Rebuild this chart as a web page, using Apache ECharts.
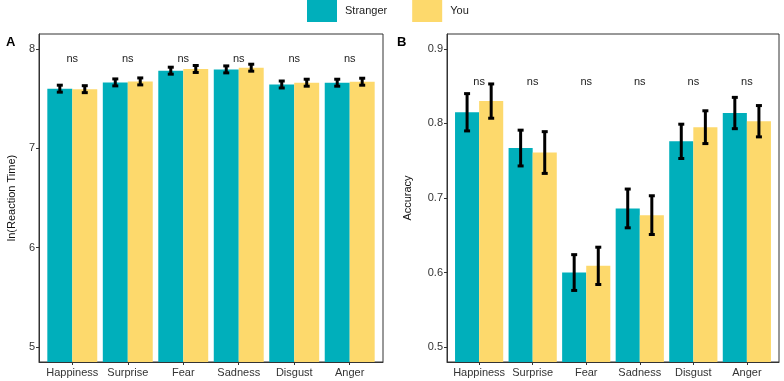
<!DOCTYPE html>
<html>
<head>
<meta charset="utf-8">
<script src="https://cdn.jsdelivr.net/npm/echarts@6/dist/echarts.min.js"></script>
<style>
  html, body { margin: 0; padding: 0; background: #fff; }
  #chart { width: 784px; height: 381px; }
</style>
</head>
<body>
<div id="chart"></div>
<script>
// emotions on the x axis
const categories = ['Happiness', 'Surprise', 'Fear', 'Sadness', 'Disgust', 'Anger'];

// panel A: ln(reaction time), mean and error half-length
const rtStranger = [7.600, 7.663, 7.781, 7.794, 7.642, 7.660];
const rtYou = [7.595, 7.673, 7.798, 7.811, 7.660, 7.670];
const rtErrStranger = [0.035, 0.035, 0.035, 0.035, 0.035, 0.035];
const rtErrYou = [0.035, 0.035, 0.035, 0.035, 0.035, 0.035];
const rtTicks = [5, 6, 7, 8];

// panel B: accuracy, mean and error half-length
const accStranger = [0.815, 0.767, 0.600, 0.686, 0.776, 0.814];
const accYou = [0.830, 0.761, 0.609, 0.677, 0.795, 0.803];
const accErrStranger = [0.025, 0.024, 0.024, 0.026, 0.023, 0.021];
const accErrYou = [0.023, 0.028, 0.025, 0.026, 0.022, 0.021];
const accTicks = [0.5, 0.6, 0.7, 0.8, 0.9];

const sigLabels = ['ns', 'ns', 'ns', 'ns', 'ns', 'ns'];

const TEAL = '#00AFBB';
const YELLOW = '#FDD96C';
const FONT = 'Liberation Sans, Arial, sans-serif';

// axis ranges (ggplot style 5% expansion)
const rtMin = 4.85, rtMax = 8.15;
const accMin = 0.48, accMax = 0.92;

function toData(vals, errs) {
  return categories.map((c, i) => [i + 1, vals[i], errs[i]]);
}

// bar drawn from the axis bottom up to the value, dodged left/right
function barRenderer(offset, base) {
  return function (params, api) {
    const x = api.value(0);
    const y = api.value(1);
    const p0 = api.coord([x + offset - 0.225, base]);
    const p1 = api.coord([x + offset + 0.225, y]);
    return {
      type: 'rect',
      shape: { x: p0[0], y: p1[1], width: p1[0] - p0[0], height: p0[1] - p1[1] },
      style: { fill: api.visual('color') }
    };
  };
}

function errRenderer(offset) {
  return function (params, api) {
    const x = api.value(0) + offset;
    const y = api.value(1);
    const e = api.value(2);
    const top = api.coord([x, y + e]);
    const bot = api.coord([x, y - e]);
    const hw = 3;
    const st = { stroke: '#000', lineWidth: 3 };
    return {
      type: 'group',
      children: [
        { type: 'line', shape: { x1: top[0], y1: top[1], x2: bot[0], y2: bot[1] }, style: st },
        { type: 'line', shape: { x1: top[0] - hw, y1: top[1], x2: top[0] + hw, y2: top[1] }, style: st },
        { type: 'line', shape: { x1: bot[0] - hw, y1: bot[1], x2: bot[0] + hw, y2: bot[1] }, style: st }
      ]
    };
  };
}

function nsRenderer(params, api) {
  const p = api.coord([api.value(0), api.value(1)]);
  return {
    type: 'text',
    style: {
      x: p[0], y: p[1], text: sigLabels[params.dataIndex],
      fill: '#222', font: '11px ' + FONT, align: 'center', verticalAlign: 'middle'
    }
  };
}

function xAxisFor(gridIndex) {
  return {
    type: 'value', gridIndex: gridIndex, min: 0.4, max: 6.6,
    axisLine: { show: true, lineStyle: { color: '#333', width: 1 } },
    axisTick: { show: true, length: 3, customValues: [1, 2, 3, 4, 5, 6], lineStyle: { color: '#333' } },
    axisLabel: {
      customValues: [1, 2, 3, 4, 5, 6], margin: 5,
      formatter: v => categories[Math.round(v) - 1],
      color: '#333', fontSize: 11, fontFamily: FONT
    },
    splitLine: { show: false }
  };
}

function yAxisFor(gridIndex, min, max, ticks, name, gap, digits) {
  return {
    type: 'value', gridIndex: gridIndex, min: min, max: max,
    name: name, nameLocation: 'middle', nameGap: gap,
    nameTextStyle: { color: '#111', fontSize: 11, fontFamily: FONT },
    axisLine: { show: true, lineStyle: { color: '#333', width: 1 } },
    axisTick: { show: true, length: 3, customValues: ticks, lineStyle: { color: '#333' } },
    axisLabel: {
      customValues: ticks, margin: 4,
      formatter: v => v.toFixed(digits),
      color: '#333', fontSize: 11, fontFamily: FONT
    },
    splitLine: { show: false }
  };
}

function panelSeries(idx, s, y, es, ey, base, nsY) {
  return [
    { name: 'Stranger', type: 'custom', xAxisIndex: idx, yAxisIndex: idx,
      itemStyle: { color: TEAL }, renderItem: barRenderer(-0.225, base), data: toData(s, es) },
    { name: 'You', type: 'custom', xAxisIndex: idx, yAxisIndex: idx,
      itemStyle: { color: YELLOW }, renderItem: barRenderer(0.225, base), data: toData(y, ey) },
    { type: 'custom', xAxisIndex: idx, yAxisIndex: idx, z: 5,
      renderItem: errRenderer(-0.225), data: toData(s, es) },
    { type: 'custom', xAxisIndex: idx, yAxisIndex: idx, z: 5,
      renderItem: errRenderer(0.225), data: toData(y, ey) },
    { type: 'custom', xAxisIndex: idx, yAxisIndex: idx, z: 6,
      renderItem: nsRenderer, data: categories.map((c, i) => [i + 1, nsY]) }
  ];
}

const option = {
  animation: false,
  backgroundColor: '#fff',
  textStyle: { fontFamily: FONT },
  legend: {
    data: ['Stranger', 'You'],
    left: 307, top: 0, padding: 0,
    icon: 'rect', itemWidth: 30, itemHeight: 22, itemGap: 25,
    textStyle: { color: '#222', fontSize: 11, fontFamily: FONT, padding: [0, 0, 0, 3] }
  },
  grid: [
    { left: 39, top: 34, width: 344, height: 328, show: true, borderColor: '#333', borderWidth: 1, backgroundColor: 'transparent' },
    { left: 447, top: 34, width: 332, height: 328, show: true, borderColor: '#333', borderWidth: 1, backgroundColor: 'transparent' }
  ],
  xAxis: [xAxisFor(0), xAxisFor(1)],
  yAxis: [
    yAxisFor(0, rtMin, rtMax, rtTicks, 'ln(Reaction Time)', 22, 0),
    yAxisFor(1, accMin, accMax, accTicks, 'Accuracy', 34, 1)
  ],
  graphic: [
    { type: 'text', left: 6, top: 36, style: { text: 'A', font: 'bold 13px ' + FONT, fill: '#000' } },
    { type: 'text', left: 397, top: 36, style: { text: 'B', font: 'bold 13px ' + FONT, fill: '#000' } }
  ],
  series: [
    ...panelSeries(0, rtStranger, rtYou, rtErrStranger, rtErrYou, rtMin, 7.9),
    ...panelSeries(1, accStranger, accYou, accErrStranger, accErrYou, accMin, 0.856)
  ]
};

const myChart = echarts.init(document.getElementById('chart'));
myChart.setOption(option);
</script>
</body>
</html>
